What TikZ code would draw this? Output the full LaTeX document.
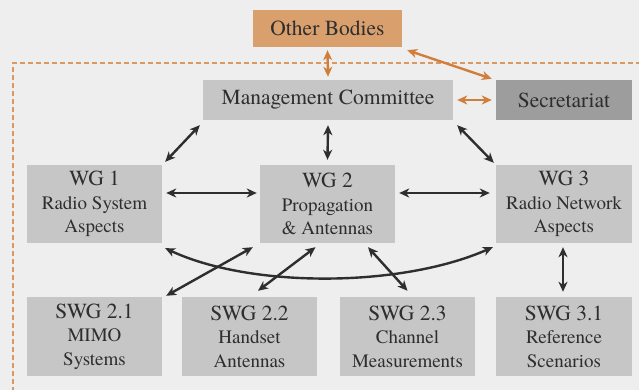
\documentclass[tikz,border=0pt]{standalone}
\usepackage{fontspec}
\setmainfont{TeX Gyre Termes}
\usetikzlibrary{arrows.meta}
\definecolor{bg}{HTML}{EEEEEE}
\definecolor{boxg}{HTML}{C6C6C6}
\definecolor{secg}{HTML}{9D9D9D}
\definecolor{orng}{HTML}{D9A06E}
\definecolor{orline}{HTML}{D07E3C}
\definecolor{ink}{HTML}{2E2E2E}
\newcommand{\ttl}[1]{{\fontsize{21.5}{23.5}\selectfont #1}}
\begin{document}
\begin{tikzpicture}[x=1pt,y=-1pt,
  box/.style={fill=boxg,draw=none,text=ink,align=center,inner sep=0pt,
    font=\rmfamily\fontsize{19}{23.5}\selectfont},
  arr/.style={draw=ink,line width=2.4pt,{Stealth[length=10pt,width=9pt,inset=3pt]}-{Stealth[length=10pt,width=9pt,inset=3pt]}},
  oarr/.style={arr,draw=orline}]
\fill[bg] (0,0) rectangle (639,390);
\useasboundingbox (0,0) rectangle (639,390);
% dashed frame
\draw[orline!80,line width=1.1pt,dash pattern=on 5pt off 3pt] (13,392) -- (13,63) -- (641,63);
% nodes
\node[box,fill=orng,minimum width=149,minimum height=37] (ob) at (327.5,28.5) {\ttl{Other Bodies}};
\node[box,minimum width=250,minimum height=40] (mgmt) at (328,100) {\ttl{Management Committee}};
\node[box,fill=secg,minimum width=136,minimum height=40] (sec) at (564,100) {\ttl{Secretariat}};
\node[box,minimum width=135,minimum height=78] (wg1) at (94.5,204) {\ttl{WG 1}\\Radio System\\Aspects};
\node[box,minimum width=135,minimum height=78] (wg2) at (327.5,204) {\ttl{WG 2}\\Propagation\\\& Antennas};
\node[box,minimum width=136,minimum height=78] (wg3) at (564,204) {\ttl{WG 3}\\Radio Network\\Aspects};
\node[box,minimum width=135,minimum height=79] (s21) at (94.5,336.5) {\ttl{SWG 2.1}\\MIMO\\Systems};
\node[box,minimum width=135,minimum height=79] (s22) at (249.5,336.5) {\ttl{SWG 2.2}\\Handset\\Antennas};
\node[box,minimum width=135,minimum height=79] (s23) at (407.5,336.5) {\ttl{SWG 2.3}\\Channel\\Measurements};
\node[box,minimum width=136,minimum height=79] (s31) at (564,336.5) {\ttl{SWG 3.1}\\Reference\\Scenarios};
% orange connectors
\draw[oarr] ([shift={(0,3)}]ob.south) -- ([shift={(0,-3)}]mgmt.north);
\draw[oarr] ([shift={(5,3)}]ob.south east) -- ([shift={(-4,-1)}]sec.north west);
\draw[oarr] ([shift={(4,0)}]mgmt.east) -- ([shift={(-4,0)}]sec.west);
% black connectors
\draw[arr] ([shift={(-3,5)}]mgmt.south west) -- ([shift={(3,-3)}]wg1.north east);
\draw[arr] ([shift={(0,5)}]mgmt.south) -- ([shift={(0,-5)}]wg2.north);
\draw[arr] ([shift={(4,5)}]mgmt.south east) -- ([shift={(-2,-2)}]wg3.north west);
\draw[arr] ([shift={(4,-11)}]wg1.east) -- ([shift={(-3,-11)}]wg2.west);
\draw[arr] ([shift={(4,-11)}]wg2.east) -- ([shift={(-6,-11)}]wg3.west);
\draw[arr] ([shift={(3,5)}]wg1.south east) .. controls (250,288) and (400,288) .. ([shift={(-3,4)}]wg3.south west);
\draw[arr] ([shift={(-7,4)}]wg2.south west) -- ([shift={(4,-1)}]s21.north east);
\draw[arr] ([shift={(-12,4)}]wg2.south) -- ([shift={(8.5,-6)}]s22.north);
\draw[arr] ([shift={(40.5,4)}]wg2.south) -- ([shift={(0,-6)}]s23.north);
\draw[arr] ([shift={(-1,4)}]wg3.south) -- ([shift={(-1,-5)}]s31.north);
\end{tikzpicture}
\end{document}
